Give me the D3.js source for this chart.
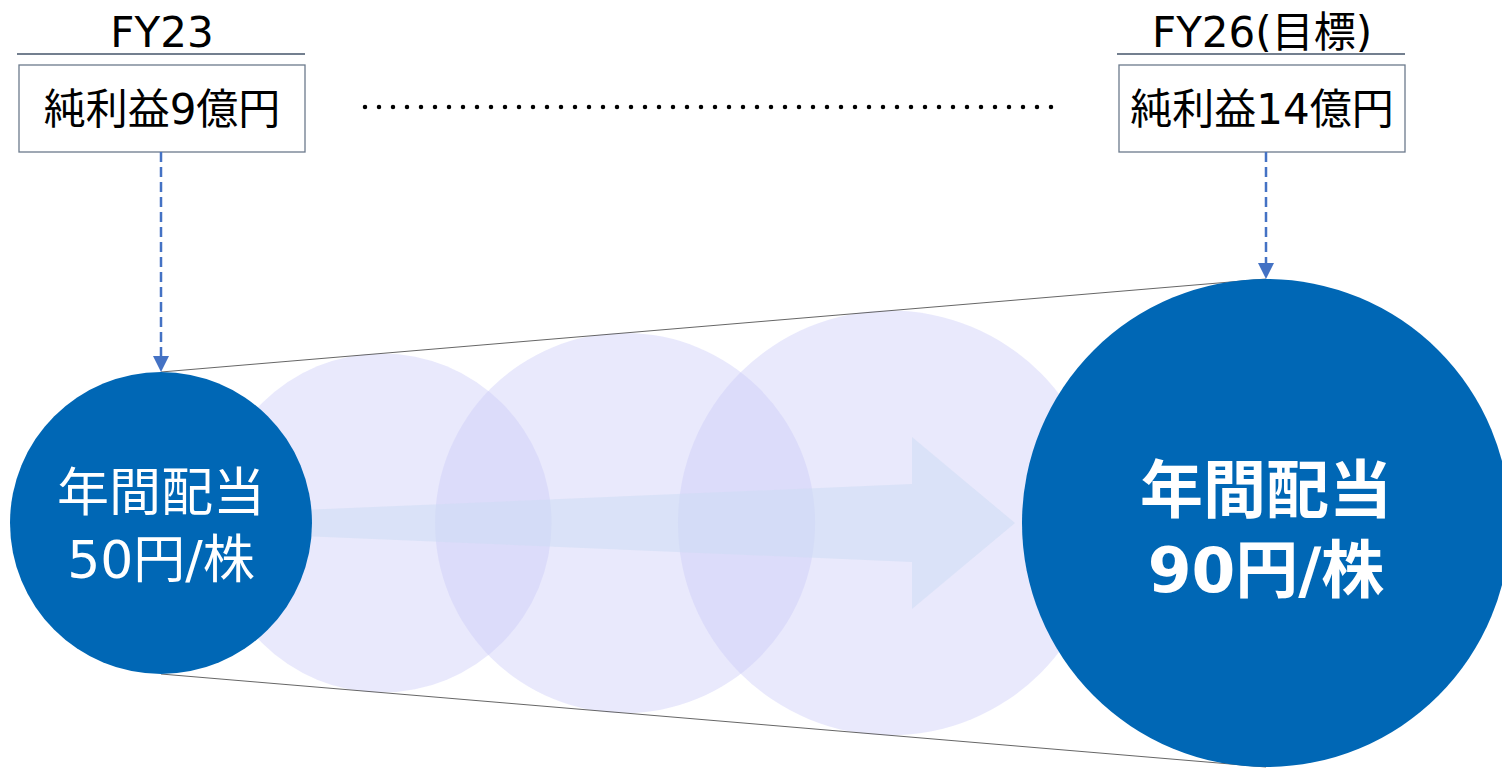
<!DOCTYPE html>
<html>
<head>
<meta charset="utf-8">
<script src="https://cdn.jsdelivr.net/npm/d3@7"></script>
<style>
  html, body { margin: 0; padding: 0; background: #fff; }
  svg { display: block; }
</style>
</head>
<body>
<div id="chart"></div>
<script>
// chart values
const periods = ['FY23', 'FY26(目標)'];
const netProfit = [9, 14];          // 億円
const dividends = [50, 90];         // 円/株
const dividendLines = ['年間配当'];
// fading steps between the two years (share of the way from FY23 to FY26)
const ghostSteps = [0.2, 0.42, 0.66];

const W = 1502, H = 769;
const cy = 523;
const blue = '#0067b5';
const font = '"DejaVu Sans", "Noto Sans CJK JP", sans-serif';

const svg = d3.select('#chart').append('svg')
  .attr('width', W).attr('height', H);

// position along the timeline, and radius growing with it
const x = d3.scaleLinear().domain([0, 1]).range([161, 1266]);
const r = d3.scaleLinear().domain([0, 1]).range([151, 244]);
const stepOf = d3.scaleLinear().domain(dividends).range([0, 1]);

const mains = periods.map((p, i) => ({
  period: p, profit: netProfit[i], dividend: dividends[i], t: stepOf(dividends[i]), i
}));

// ghost circles
svg.append('g').selectAll('circle')
  .data(ghostSteps)
  .join('circle')
  .attr('cx', d => x(d))
  .attr('cy', cy)
  .attr('r', d => r(d))
  .attr('fill', 'rgb(201,201,248)')
  .attr('fill-opacity', 0.41);

// growth arrow
const tipX = x(1) - r(1) - 7;
const headX = tipX - 103;
const tail = x(0);
const arrowPts = [
  [tail, cy - 7], [headX, cy - 39], [headX, cy - 86], [tipX, cy],
  [headX, cy + 86], [headX, cy + 39], [tail, cy + 7]
];
svg.append('path')
  .attr('d', d3.line()(arrowPts) + 'Z')
  .attr('fill', 'rgb(205,220,244)')
  .attr('fill-opacity', 0.55);

// tangent lines
const tangents = [-1, 1];
svg.append('g').selectAll('line')
  .data(tangents)
  .join('line')
  .attr('x1', x(0)).attr('y1', s => cy + s * r(0))
  .attr('x2', x(1)).attr('y2', s => cy + s * r(1))
  .attr('stroke', '#555')
  .attr('stroke-width', 0.9);

// main circles
const circ = svg.append('g').selectAll('g')
  .data(mains)
  .join('g');

circ.append('circle')
  .attr('cx', d => x(d.t))
  .attr('cy', cy)
  .attr('r', d => r(d.t))
  .attr('fill', blue);

circ.each(function(d) {
  const g = d3.select(this);
  const big = d.i === 1;
  const fs = big ? 63 : 52;
  const lines = [dividendLines[0], `${d.dividend}円/株`];
  const offs = big ? [-33, 47] : [-30, 37];
  g.selectAll('text')
    .data(lines)
    .join('text')
    .attr('x', x(d.t))
    .attr('y', (l, k) => cy + offs[k])
    .attr('text-anchor', 'middle')
    .attr('dominant-baseline', 'central')
    .attr('fill', '#fff')
    .attr('font-family', font)
    .attr('font-size', fs)
    .attr('font-weight', big ? 'bold' : 'normal')
    .text(l => l);
});

// header: period label, rule, net profit box
const boxW = 286, boxH = 87, boxTop = 65;
const boxCx = d => x(d.t) + (d.i === 1 ? -4 : 1);
const head = svg.append('g').selectAll('g')
  .data(mains)
  .join('g');

head.append('text')
  .attr('x', boxCx)
  .attr('y', 47)
  .attr('text-anchor', 'middle')
  .attr('font-family', font)
  .attr('font-size', 42)
  .attr('fill', '#000')
  .text(d => d.period);

head.append('line')
  .attr('x1', d => boxCx(d) - 145).attr('x2', d => boxCx(d) + 143)
  .attr('y1', 54).attr('y2', 54)
  .attr('stroke', '#44546a').attr('stroke-width', 1.3);

head.append('rect')
  .attr('x', d => boxCx(d) - boxW / 2)
  .attr('y', boxTop)
  .attr('width', boxW).attr('height', boxH)
  .attr('fill', '#fff')
  .attr('stroke', '#6c7a8c').attr('stroke-width', 1.3);

head.append('text')
  .attr('x', boxCx)
  .attr('y', boxTop + boxH / 2 + 1)
  .attr('text-anchor', 'middle')
  .attr('dominant-baseline', 'central')
  .attr('font-family', font)
  .attr('font-size', 42)
  .attr('fill', '#000')
  .text(d => `純利益${d.profit}億円`);

// dashed pointers from box to circle top
head.append('line')
  .attr('x1', d => x(d.t)).attr('x2', d => x(d.t))
  .attr('y1', boxTop + boxH)
  .attr('y2', d => cy - r(d.t) - 15)
  .attr('stroke', '#4472c4').attr('stroke-width', 2.5)
  .attr('stroke-dasharray', '10 5');

head.append('path')
  .attr('d', d => {
    const px = x(d.t), py = cy - r(d.t);
    return d3.line()([[px - 8, py - 16], [px + 8, py - 16], [px, py]]) + 'Z';
  })
  .attr('fill', '#4472c4');

// dotted link between the two boxes
svg.append('line')
  .attr('x1', x(0) + boxW / 2 + 61)
  .attr('x2', x(1) - boxW / 2 - 66)
  .attr('y1', 107).attr('y2', 107)
  .attr('stroke', '#000')
  .attr('stroke-width', 4.5)
  .attr('stroke-linecap', 'round')
  .attr('stroke-dasharray', '0 14');
</script>
</body>
</html>
